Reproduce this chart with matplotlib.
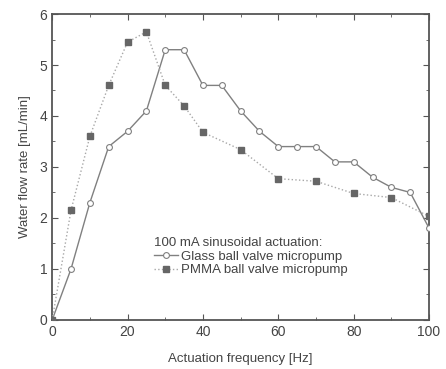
import matplotlib
matplotlib.use("Agg")
import matplotlib.pyplot as plt
from matplotlib.ticker import MultipleLocator

plt.rcParams['font.family'] = ['Liberation Sans', 'DejaVu Sans']

glass_x = [0, 5, 10, 15, 20, 25, 30, 35, 40, 45, 50, 55, 60, 65, 70, 75, 80, 85, 90, 95, 100]
glass_y = [0, 1.0, 2.3, 3.4, 3.7, 4.1, 5.3, 5.3, 4.6, 4.6, 4.1, 3.7, 3.4, 3.4, 3.4, 3.1, 3.1, 2.8, 2.6, 2.5, 1.8]
pmma_x = [0, 5, 10, 15, 20, 25, 30, 35, 40, 50, 60, 70, 80, 90, 100]
pmma_y = [0, 2.15, 3.6, 4.6, 5.45, 5.65, 4.6, 4.2, 3.68, 3.34, 2.77, 2.72, 2.48, 2.4, 2.03]

fig = plt.figure(figsize=(4.46, 3.69), dpi=100)
ax = fig.add_axes([0.117, 0.133, 0.845, 0.829])

ax.plot(glass_x, glass_y, '-', color='#808080', lw=1.0, marker='o', ms=4.2,
        mfc='white', mec='#808080', mew=0.8, label='Glass ball valve micropump', zorder=3)
ax.plot(pmma_x, pmma_y, ':', color='#a8a8a8', lw=1.0, marker='s', ms=3.8,
        mfc='#666666', mec='#666666', label='PMMA ball valve micropump', zorder=3)

ax.set_xlim(0, 100)
ax.set_ylim(0, 6)
ax.xaxis.set_major_locator(MultipleLocator(20))
ax.xaxis.set_minor_locator(MultipleLocator(10))
ax.yaxis.set_major_locator(MultipleLocator(1))
ax.yaxis.set_minor_locator(MultipleLocator(0.5))
ax.tick_params(which='both', direction='in', top=True, right=True, colors='#555555',
               labelcolor='#444444')
ax.tick_params(which='major', length=4, labelsize=10)
ax.tick_params(which='minor', length=2.5)
for s in ax.spines.values():
    s.set_color('#555555')
    s.set_linewidth(1.3)

ax.set_xlabel('Actuation frequency [Hz]', fontsize=9.5, color='#444444', labelpad=10)
ax.set_ylabel('Water flow rate [mL/min]', fontsize=9.5, color='#444444', labelpad=6)

leg = ax.legend(title='100 mA sinusoidal actuation:', loc='upper left',
                bbox_to_anchor=(0.245, 0.30), frameon=False, fontsize=9.5,
                title_fontsize=9.5, alignment='left', handlelength=1.8,
                handletextpad=0.3, labelspacing=0.1, borderpad=0.2)
for t in leg.get_texts():
    t.set_color('#444444')
leg.get_title().set_color('#444444')

fig.savefig('out.png', dpi=100)
